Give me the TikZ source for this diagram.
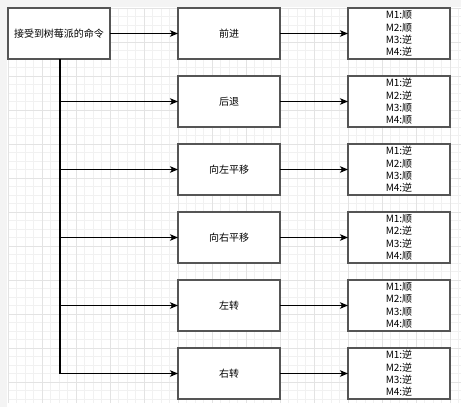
\documentclass[tikz,border=0pt]{standalone}
\usepackage{fontspec}
\setmainfont{Noto Sans CJK SC}
\usetikzlibrary{arrows.meta}
\definecolor{bgside}{HTML}{F4F4F4}
\definecolor{gminor}{HTML}{F1F1F1}
\definecolor{gmajor}{HTML}{E3E3E3}
\definecolor{boxline}{HTML}{555555}
\tikzset{
  box/.style={draw=boxline, line width=1.3pt, fill=white, minimum width=102pt, minimum height=51pt, inner sep=0pt, outer sep=0pt, font=\fontsize{10pt}{12.3pt}\selectfont, align=center},
  conn/.style={line width=1.2pt, -{Stealth[length=8pt,width=6.5pt,inset=2pt]}},
  trunk/.style={line width=1.2pt}
}
\begin{document}
\begin{tikzpicture}[x=1pt,y=-1pt]
\useasboundingbox (0,0) rectangle (461,407);
\fill[white] (0,0) rectangle (461,407);
\fill[bgside] (0,0) rectangle (461,7);
\fill[bgside] (0,0) rectangle (7,407);
% grid
\foreach \i in {0,...,53} {
  \pgfmathsetmacro{\xx}{8+8.5*\i}
  \draw[gminor, line width=0.8pt] (\xx,8) -- (\xx,403);
}
\foreach \i in {0,...,46} {
  \pgfmathsetmacro{\yy}{8+8.5*\i}
  \draw[gminor, line width=0.8pt] (8,\yy) -- (461,\yy);
}
\foreach \i in {0,...,13} {
  \pgfmathsetmacro{\xx}{8+34*\i}
  \draw[gmajor, line width=0.8pt] (\xx,8) -- (\xx,403);
}
\foreach \i in {0,...,11} {
  \pgfmathsetmacro{\yy}{8+34*\i}
  \draw[gmajor, line width=0.8pt] (8,\yy) -- (461,\yy);
}
% nodes
\node[box] (src) at (59,33.5) {接受到树莓派的命令};
\node[box] (m0) at (229,33.5) {前进};
\node[box] (m1) at (229,101.5) {后退};
\node[box] (m2) at (229,169.5) {向左平移};
\node[box] (m3) at (229,237.5) {向右平移};
\node[box] (m4) at (229,305.5) {左转};
\node[box] (m5) at (229,373.5) {右转};
\node[box] (r0) at (399,33.5) {M1:顺\\M2:顺\\M3:逆\\M4:逆};
\node[box] (r1) at (399,101.5) {M1:逆\\M2:逆\\M3:顺\\M4:顺};
\node[box] (r2) at (399,169.5) {M1:逆\\M2:顺\\M3:顺\\M4:逆};
\node[box] (r3) at (399,237.5) {M1:顺\\M2:逆\\M3:逆\\M4:顺};
\node[box] (r4) at (399,305.5) {M1:顺\\M2:顺\\M3:顺\\M4:顺};
\node[box] (r5) at (399,373.5) {M1:逆\\M2:逆\\M3:逆\\M4:逆};
\coordinate (tb) at (60,373.5);
% connectors
\draw[conn] (src.east) -- (m0.west);
\draw[trunk] (src.south -| tb) -- (tb);
\foreach \k in {1,...,5} {
  \draw[conn] (tb |- m\k.west) -- (m\k.west);
}
\foreach \k in {0,...,5} {
  \draw[conn] (m\k.east) -- (r\k.west);
}
\end{tikzpicture}
\end{document}
